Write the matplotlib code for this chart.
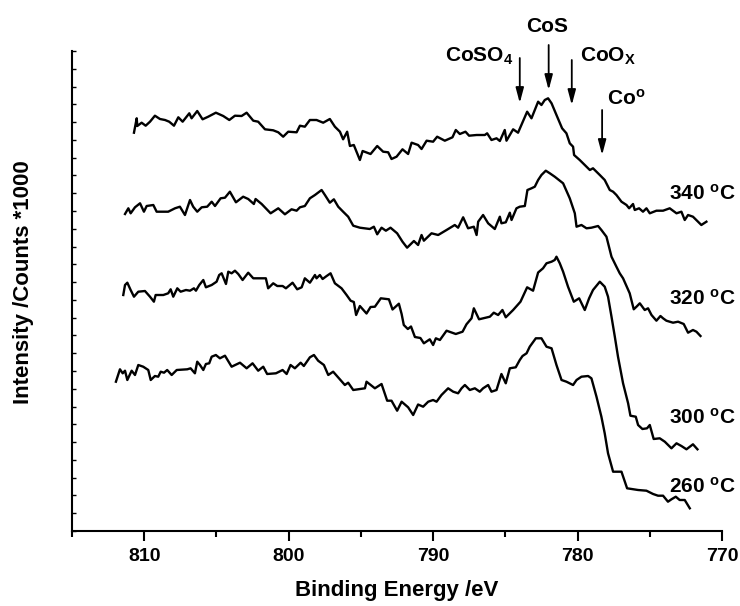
import numpy as np
import matplotlib.pyplot as plt

plt.rcParams['font.family'] = ['Liberation Sans', 'DejaVu Sans']
plt.rcParams['font.weight'] = 'bold'
plt.rcParams['mathtext.fontset'] = 'custom'
plt.rcParams['mathtext.rm'] = 'Liberation Sans:bold'
plt.rcParams['mathtext.it'] = 'Liberation Sans:bold'
plt.rcParams['mathtext.bf'] = 'Liberation Sans:bold'

# Co 2p3/2 XPS spectra, offset per sulfidation temperature
e_340 = [810.71, 810.52, 810.48, 810.18, 809.90, 809.60, 809.26, 808.91, 808.56, 808.27,
         807.94, 807.64, 807.34, 806.88, 806.72, 806.33, 805.96, 805.57, 805.04, 804.53,
         804.11, 803.72, 803.26, 802.91, 802.45, 802.11, 801.64, 801.07, 800.72, 800.38,
         800.03, 799.45, 799.22, 798.88, 798.53, 798.07, 797.61, 797.15, 796.80, 796.45,
         796.23, 795.95, 795.76, 795.49, 795.07, 794.88, 794.33, 793.87, 793.46, 793.11,
         792.88, 792.53, 792.12, 791.73, 791.49, 791.04, 790.80, 790.45, 790.00, 789.72,
         789.19, 788.66, 788.43, 788.15, 787.76, 787.51, 786.99, 786.42, 786.26, 785.96,
         785.61, 785.38, 785.04, 784.92, 784.46, 784.12, 783.49, 783.19, 782.73, 782.50,
         782.27, 782.04, 781.80, 781.46, 781.07, 780.77, 780.54, 780.31, 780.24, 779.85,
         779.15, 778.93, 778.46, 778.12, 777.77, 777.54, 777.31, 776.96, 776.61, 776.43,
         776.16, 776.04, 775.74, 775.47, 775.23, 775.00, 774.54, 774.08, 773.62, 773.15,
         772.81, 772.58, 772.35, 772.01, 771.66, 771.43, 771.08]
i_340 = [39.83, 41.27, 40.50, 40.83, 40.53, 40.93, 41.53, 41.20, 41.10, 40.93,
         40.53, 41.37, 40.93, 41.77, 41.27, 42.00, 41.17, 41.43, 41.83, 41.50,
         41.10, 41.53, 41.50, 41.83, 41.03, 40.93, 40.17, 40.07, 39.87, 39.43,
         39.93, 39.87, 40.53, 40.43, 41.10, 41.10, 40.83, 41.20, 40.43, 39.93,
         39.17, 39.93, 38.50, 38.60, 37.10, 38.00, 37.70, 38.50, 37.93, 37.87,
         37.20, 37.43, 38.17, 37.70, 38.83, 38.60, 38.20, 39.03, 38.93, 39.43,
         39.03, 39.37, 40.10, 39.70, 39.93, 39.53, 39.60, 39.60, 39.77, 39.10,
         39.27, 39.00, 40.10, 39.03, 40.17, 39.83, 41.93, 41.27, 42.93, 42.60,
         43.10, 43.27, 42.77, 41.60, 40.27, 39.77, 38.77, 38.43, 37.60, 37.10,
         36.10, 36.27, 35.60, 35.10, 34.10, 33.93, 33.60, 32.93, 32.60, 32.27,
         32.70, 32.10, 32.27, 31.93, 32.27, 31.77, 32.03, 32.03, 32.27, 31.77,
         31.93, 31.10, 31.60, 31.43, 30.93, 30.60, 30.93]

e_320 = [811.33, 811.10, 810.94, 810.64, 810.29, 810.02, 809.83, 809.37, 809.14, 808.34,
         807.87, 807.53, 807.18, 806.83, 806.61, 806.33, 806.02, 805.64, 805.33, 805.10,
         804.71, 804.41, 804.07, 803.65, 803.15, 802.80, 802.41, 802.29, 801.87, 801.25,
         800.72, 800.26, 799.80, 799.45, 799.22, 798.88, 798.53, 798.18, 797.72, 797.49,
         797.15, 796.87, 796.57, 796.23, 795.88, 795.53, 795.07, 794.38, 794.10, 793.87,
         793.57, 793.27, 792.95, 792.49, 792.12, 791.80, 791.33, 791.04, 790.80, 790.64,
         790.11, 789.65, 789.07, 788.50, 788.27, 787.92, 787.58, 787.18, 786.99, 786.88,
         786.54, 786.19, 785.73, 785.38, 785.27, 784.97, 784.69, 784.57, 784.23, 784.00,
         783.65, 783.47, 783.19, 782.96, 782.73, 782.50, 782.20, 781.92, 781.58, 781.00,
         780.54, 780.19, 780.07, 779.73, 779.38, 779.04, 778.58, 778.35, 778.00, 777.65,
         777.31, 777.08, 776.85, 776.39, 776.11, 775.92, 775.69, 775.35, 775.12, 774.88,
         774.54, 774.26, 774.08, 773.85, 773.39, 773.04, 772.65, 772.35, 772.01, 771.77,
         771.49]
i_320 = [31.70, 32.27, 31.77, 32.37, 32.77, 31.93, 32.50, 32.60, 31.93, 31.93,
         32.27, 32.43, 31.60, 33.10, 32.43, 31.93, 32.37, 32.43, 32.93, 32.50,
         33.27, 33.33, 33.93, 32.87, 33.43, 33.20, 32.70, 33.20, 32.70, 31.77,
         32.27, 31.67, 32.17, 32.03, 32.37, 32.50, 33.27, 33.60, 34.10, 33.60,
         32.83, 33.17, 32.43, 31.93, 31.43, 30.53, 30.33, 30.20, 30.43, 29.67,
         30.33, 30.03, 30.33, 29.77, 28.93, 28.33, 29.00, 28.60, 29.60, 29.03,
         29.77, 29.60, 30.10, 30.60, 30.33, 31.37, 30.27, 30.43, 29.60, 30.93,
         31.60, 30.77, 30.20, 31.43, 30.77, 30.87, 31.83, 31.10, 32.27, 32.43,
         32.50, 34.10, 34.27, 34.43, 35.10, 35.60, 36.03, 35.77, 35.43, 34.77,
         33.27, 31.77, 30.43, 30.60, 30.27, 30.33, 30.50, 30.10, 29.43, 27.43,
         26.43, 25.77, 25.27, 23.77, 22.17, 22.43, 22.77, 22.10, 22.27, 21.60,
         21.03, 21.50, 21.27, 21.03, 20.83, 20.93, 20.70, 19.83, 20.10, 19.93,
         19.50]

e_300 = [811.45, 811.33, 811.17, 810.94, 810.71, 810.41, 809.95, 809.60, 809.33, 809.21,
         808.68, 808.34, 808.17, 807.99, 807.71, 807.48, 807.11, 806.83, 806.56, 806.42,
         806.19, 805.91, 805.73, 805.33, 804.99, 804.81, 804.64, 804.34, 804.18, 803.95,
         803.72, 803.49, 803.19, 802.80, 802.45, 802.22, 801.58, 801.42, 801.07, 800.79,
         800.42, 800.19, 799.73, 799.41, 799.10, 798.88, 798.53, 798.18, 798.07, 797.84,
         797.65, 797.37, 797.10, 796.80, 796.34, 795.99, 795.71, 795.49, 795.33, 795.07,
         794.61, 794.33, 794.03, 793.62, 793.06, 792.81, 792.37, 792.18, 792.03, 791.75,
         791.53, 791.26, 790.88, 790.64, 790.23, 790.00, 789.81, 789.53, 789.07, 788.43,
         787.96, 787.69, 787.34, 787.18, 786.82, 786.07, 785.80, 785.50, 785.20, 784.97,
         784.46, 783.95, 783.49, 783.08, 782.73, 782.39, 782.15, 781.80, 781.58, 781.46,
         781.23, 781.00, 780.66, 780.26, 779.89, 779.50, 779.20, 778.93, 778.46, 778.12,
         777.89, 777.65, 777.42, 777.20, 776.85, 776.50, 776.34, 775.97, 775.81, 775.51,
         775.19, 775.00, 774.73, 774.31, 773.96, 773.50, 773.15, 772.81, 772.46, 772.01,
         771.70]
i_300 = [23.60, 24.60, 24.83, 24.10, 23.43, 23.93, 24.00, 23.43, 22.93, 23.60,
         23.60, 23.77, 24.17, 23.43, 24.27, 23.93, 24.10, 24.03, 24.27, 24.03,
         24.60, 25.10, 24.37, 24.60, 24.93, 25.60, 25.77, 24.70, 25.93, 25.77,
         26.03, 25.70, 25.10, 25.83, 25.27, 25.27, 25.27, 24.27, 24.77, 24.50,
         24.50, 24.27, 24.83, 24.17, 24.37, 25.27, 24.83, 25.60, 25.27, 25.60,
         25.20, 25.50, 25.77, 24.77, 24.27, 23.60, 23.03, 22.90, 21.60, 22.50,
         21.75, 22.40, 22.43, 23.27, 23.17, 22.15, 22.73, 21.70, 20.60, 20.20,
         20.45, 19.40, 19.30, 18.77, 19.17, 18.60, 19.27, 19.10, 20.03, 19.70,
         19.93, 20.67, 21.27, 22.27, 21.17, 21.43, 21.83, 21.60, 22.10, 21.37,
         22.10, 22.93, 24.37, 24.03, 25.85, 26.27, 26.77, 26.93, 27.10, 27.43,
         26.77, 25.93, 24.43, 22.93, 23.27, 22.10, 23.27, 24.10, 24.93, 24.43,
         23.43, 21.43, 19.43, 17.43, 14.77, 12.77, 11.53, 11.43, 10.60, 10.20,
         10.27, 10.60, 9.20, 9.27, 8.93, 8.27, 8.77, 8.50, 8.17, 8.67,
         8.17]

e_260 = [811.96, 811.68, 811.49, 811.33, 811.17, 810.87, 810.64, 810.41, 810.07, 809.72,
         809.55, 809.26, 809.03, 808.86, 808.63, 808.41, 808.10, 807.75, 807.02, 806.79,
         806.49, 806.33, 806.14, 805.91, 805.73, 805.50, 805.33, 805.04, 804.76, 804.41,
         803.95, 803.37, 802.91, 802.50, 802.11, 801.76, 801.49, 800.88, 800.42, 800.14,
         799.87, 799.57, 799.17, 798.95, 798.53, 798.25, 797.96, 797.56, 797.26, 796.92,
         796.11, 795.88, 795.53, 794.72, 794.61, 794.03, 793.57, 793.18, 792.88, 792.49,
         792.18, 791.73, 791.38, 791.04, 790.69, 790.34, 790.00, 789.76, 789.42, 788.96,
         788.61, 788.27, 788.03, 787.80, 787.46, 787.11, 786.77, 786.54, 786.19, 785.96,
         785.61, 785.27, 784.97, 784.69, 784.28, 784.00, 783.81, 783.53, 783.31, 782.89,
         782.50, 782.15, 781.80, 781.46, 781.11, 780.77, 780.31, 780.07, 779.73, 779.27,
         779.04, 778.69, 778.35, 778.12, 777.89, 777.54, 776.96, 776.57, 775.81, 775.23,
         774.77, 774.43, 774.08, 773.74, 773.50, 773.20, 772.93, 772.58, 772.23]
i_260 = [14.93, 16.17, 15.77, 16.03, 15.10, 16.03, 15.60, 16.60, 16.43, 16.10,
         15.10, 15.50, 15.43, 15.93, 15.83, 16.10, 15.60, 16.10, 16.17, 16.27,
         15.77, 16.93, 16.60, 16.10, 16.70, 16.77, 17.43, 17.60, 17.27, 17.53,
         16.43, 16.83, 16.27, 16.77, 16.03, 16.43, 15.70, 15.77, 16.10, 15.70,
         16.60, 16.27, 16.83, 16.50, 17.37, 17.60, 17.03, 16.60, 15.60, 15.93,
         14.60, 14.83, 14.10, 14.27, 14.93, 14.27, 14.70, 13.03, 13.03, 12.03,
         12.93, 12.37, 11.60, 12.65, 12.43, 12.93, 13.10, 12.93, 13.60, 14.27,
         13.93, 13.77, 14.27, 14.60, 14.10, 14.27, 13.93, 14.27, 14.60, 13.93,
         14.10, 15.70, 14.77, 16.27, 16.37, 17.10, 17.50, 17.77, 18.43, 19.27,
         19.27, 18.43, 18.27, 16.60, 15.10, 14.93, 14.60, 15.10, 15.43, 15.50,
         15.27, 13.43, 11.43, 9.77, 7.77, 5.93, 5.93, 4.27, 4.10, 4.03,
         3.70, 3.53, 3.53, 2.93, 3.17, 3.43, 3.10, 3.10, 2.27]

series = [(e_340, i_340), (e_320, i_320), (e_300, i_300), (e_260, i_260)]

# temperature labels: text, energy, intensity (baseline)
temp_labels = [r'340 $^{\mathrm{o}}$C', r'320 $^{\mathrm{o}}$C',
               r'300 $^{\mathrm{o}}$C', r'260 $^{\mathrm{o}}$C']
temp_label_e = 773.7
temp_label_i = [33.17, 22.6, 10.7, 3.83]

# peak markers: label, arrow energy, arrow top, arrow head, label energy, label y, alignment
peaks = [
    (r'CoSO$_{\mathrm{4}}$', 784.0, 47.3, 42.8, 784.48, 46.9, 'right'),
    ('CoS', 782.0, 48.6, 44.1, 782.13, 49.93, 'center'),
    (r'CoO$_{\mathrm{X}}$', 780.4, 47.1, 42.6, 779.85, 46.9, 'left'),
    (r'Co$^{\mathrm{o}}$', 778.3, 42.1, 37.6, 777.98, 42.6, 'left'),
]

fig = plt.figure(figsize=(7.4, 6.06), dpi=100)
ax = fig.add_axes([72 / 740, 75 / 606, 650 / 740, 480 / 606])

for e, i in series:
    ax.plot(e, i, color='black', linewidth=1.7)

for txt, yi in zip(temp_labels, temp_label_i):
    ax.text(temp_label_e, yi, txt, fontsize=15, fontweight='bold',
            ha='left', va='baseline', clip_on=False)

for txt, ea, y0, y1, et, yt, ha in peaks:
    ax.annotate('', xy=(ea, y1), xytext=(ea, y0), annotation_clip=False,
                arrowprops=dict(arrowstyle='-|>,head_length=0.9,head_width=0.24',
                                color='black', linewidth=1.3, shrinkA=0, shrinkB=0))
    ax.text(et, yt, txt, fontsize=15, fontweight='bold', ha=ha, va='baseline',
            clip_on=False)

ax.set_xlim(815, 770)
ax.set_ylim(0, 48)
ax.set_xticks([810, 800, 790, 780, 770])
ax.set_xticks([815, 805, 795, 785, 775], minor=True)
ax.set_yticks(np.linspace(0, 48, 28))
ax.set_yticklabels([])
ax.tick_params(axis='x', which='major', direction='out', length=7, width=1.5,
               labelsize=14, pad=5)
ax.tick_params(axis='x', which='minor', direction='out', length=4, width=1.5)
ax.tick_params(axis='y', which='major', direction='in', length=3, width=1)
for lbl in ax.get_xticklabels():
    lbl.set_fontweight('bold')

ax.spines['top'].set_visible(False)
ax.spines['right'].set_visible(False)
ax.spines['left'].set_linewidth(1.5)
ax.spines['bottom'].set_linewidth(1.5)

ax.set_xlabel('Binding Energy /eV', fontsize=16, fontweight='bold', va='center')
ax.xaxis.set_label_coords(0.5, -0.123)
ax.set_ylabel('Intensity /Counts *1000', fontsize=16, fontweight='bold', va='center')
ax.yaxis.set_label_coords(-0.075, 0.519)

plt.savefig('out.png', dpi=100)
